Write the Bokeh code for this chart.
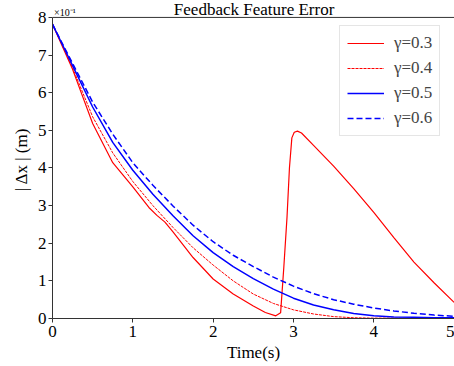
from bokeh.plotting import figure
from bokeh.models import Span, Label, Legend, LegendItem, FixedTicker, Range1d
from bokeh.embed import file_html
from bokeh.resources import INLINE

# ---- data ----
t_grid = [0, 0.1, 0.25, 0.5, 0.75, 1.0, 1.25, 1.5, 1.75, 2.0, 2.25, 2.5,
          2.75, 3.0, 3.25, 3.5, 3.75, 4.0, 4.25, 4.5, 4.75, 5.0]
err_g06 = [7.82, 7.40, 6.78, 5.75, 4.90, 4.14, 3.54, 2.99, 2.48, 2.04, 1.68, 1.38,
           1.10, 0.86, 0.66, 0.50, 0.38, 0.28, 0.20, 0.14, 0.09, 0.06]
err_g05 = [7.82, 7.38, 6.72, 5.62, 4.68, 3.94, 3.30, 2.73, 2.20, 1.75, 1.38, 1.06,
           0.78, 0.54, 0.36, 0.23, 0.13, 0.07, 0.04, 0.03, 0.02, 0.02]
err_g04 = [7.82, 7.36, 6.66, 5.36, 4.40, 3.64, 3.00, 2.42, 1.88, 1.42, 1.00, 0.65,
           0.40, 0.23, 0.12, 0.05, 0.02, 0.01, 0.01, 0.0, 0.0, 0.0]
t_g03 = [0, 0.1, 0.25, 0.5, 0.75, 1.0, 1.2, 1.3, 1.4, 1.5, 1.75, 2.0, 2.25, 2.5,
         2.65, 2.78, 2.84, 2.88, 2.92, 2.95, 2.98, 3.01, 3.05, 3.1, 3.25, 3.5,
         3.75, 4.0, 4.25, 4.5, 4.75, 5.0]
err_g03 = [7.82, 7.34, 6.62, 5.18, 4.14, 3.50, 2.95, 2.74, 2.56, 2.30, 1.62, 1.05,
           0.65, 0.33, 0.16, 0.07, 0.15, 1.36, 2.70, 4.00, 4.80, 4.95, 4.98, 4.93,
           4.60, 4.05, 3.45, 2.82, 2.15, 1.50, 0.95, 0.43]
labels = ["γ=0.3", "γ=0.4", "γ=0.5", "γ=0.6"]
x_ticks = [0, 1, 2, 3, 4, 5]
y_ticks = [0, 1, 2, 3, 4, 5, 6, 7, 8]

FONT = "Liberation Serif, Times New Roman, serif"
AX = "#333333"

p = figure(width=454, height=366, x_range=Range1d(0, 5.005), y_range=Range1d(0, 8.45),
           output_backend="svg", toolbar_location=None,
           min_border_left=52, min_border_right=0, min_border_top=0, min_border_bottom=48)
p.outline_line_color = None
p.xgrid.visible = False
p.ygrid.visible = False
p.background_fill_color = "white"
p.border_fill_color = "white"

for ax in (p.xaxis[0], p.yaxis[0]):
    ax.axis_line_color = AX
    ax.major_tick_line_color = AX
    ax.major_tick_out = 4
    ax.major_tick_in = 0
    ax.minor_tick_line_color = None
    ax.major_label_text_font = FONT
    ax.major_label_text_font_size = "17px"
    ax.major_label_text_color = "black"
    ax.axis_label_text_font = FONT
    ax.axis_label_text_font_size = "17px"
    ax.axis_label_text_font_style = "normal"
    ax.axis_label_text_color = "black"

p.yaxis.bounds = (0, 8)
p.xaxis.ticker = FixedTicker(ticks=x_ticks)
p.yaxis.ticker = FixedTicker(ticks=y_ticks)
p.xaxis.axis_label = "Time(s)"
p.yaxis.axis_label = "| Δx | (m)"
p.xaxis.major_label_standoff = 3
p.xaxis.axis_label_standoff = 3
p.yaxis.major_label_standoff = 2
p.yaxis.axis_label_standoff = 4

p.add_layout(Span(location=8, dimension="width", line_color=AX, line_width=1))

r3 = p.line(t_g03, err_g03, line_color="red", line_width=1.2)
r3_key = p.line([], [], line_color="red", line_width=1.2)  # legend swatch only
r4 = p.line(t_grid, err_g04, line_color="red", line_width=1, line_dash="3 1")
r5 = p.line(t_grid, err_g05, line_color="blue", line_width=1.5)
r6 = p.line(t_grid, err_g06, line_color="blue", line_width=1.5, line_dash="6 3")

legend = Legend(items=[LegendItem(label=labels[0], renderers=[r3, r3_key]),
                       LegendItem(label=labels[1], renderers=[r4]),
                       LegendItem(label=labels[2], renderers=[r5]),
                       LegendItem(label=labels[3], renderers=[r6])],
                location="top_right", margin=9, padding=7, spacing=5,
                glyph_width=37, glyph_height=20, label_height=20, label_standoff=10,
                label_text_font=FONT, label_text_font_size="17px",
                border_line_color="#cccccc", border_line_width=1,
                background_fill_color="white", background_fill_alpha=1.0)
p.add_layout(legend)
legend.location = (287, 182)

p.add_layout(Label(x=2.51, y=8 + 8 / 37.6, text="Feedback Feature Error",
                   text_font=FONT, text_font_size="17px", text_align="center",
                   text_baseline="alphabetic", text_color="black"))
p.add_layout(Label(x=0.02, y=8 + 5 / 37.6, text="×10⁻¹",
                   text_font=FONT, text_font_size="10px", text_align="left",
                   text_baseline="alphabetic", text_color="black"))

open("out.html", "w").write(file_html(p, INLINE))
